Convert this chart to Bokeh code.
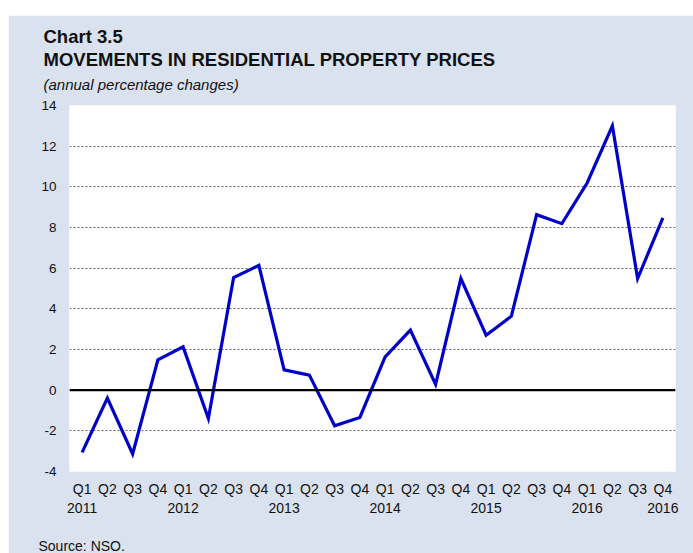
from bokeh.plotting import figure
from bokeh.models import Span, FixedTicker, Range1d, Spacer, Title
from bokeh.layouts import column, row
from bokeh.embed import file_html
from bokeh.resources import INLINE

# ---- data ----
years = ["2011"] * 4 + ["2012"] * 4 + ["2013"] * 4 + ["2014"] * 4 + ["2015"] * 4 + ["2016"] * 4
quarters = ["Q1", "Q2", "Q3", "Q4"] * 6
values = [-3.06, -0.39, -3.14, 1.49,
          2.13, -1.39, 5.54, 6.14,
          1.00, 0.74, -1.75, -1.34,
          1.64, 2.95, 0.28, 5.49,
          2.70, 3.64, 8.63, 8.19,
          10.19, 13.00, 5.49, 8.47]
y_ticks = [-4, -2, 0, 2, 4, 6, 8, 10, 12, 14]

title_1 = "Chart 3.5"
title_2 = "MOVEMENTS IN RESIDENTIAL PROPERTY PRICES"
subtitle = "(annual percentage changes)"
source = "Source: NSO."

xs = list(range(len(values)))
overrides = {}
for i, (y, q) in enumerate(zip(years, quarters)):
    if q == "Q1" or i == len(values) - 1:
        overrides[i] = f"{q}\n{y}"
    else:
        overrides[i] = q
y_labels = {t: str(t) for t in y_ticks}   # plain hyphen for negatives

PANEL = "#dbe2ef"
FONT = "Liberation Sans"
TXT = "#111111"

p = figure(x_range=Range1d(-0.5, len(values) - 0.5), y_range=Range1d(-4, 14),
           width=685, height=538,
           min_border_left=61, min_border_right=18,
           min_border_top=90, min_border_bottom=81,
           output_backend="svg", toolbar_location=None,
           background_fill_color="white", border_fill_color=PANEL,
           outline_line_color=None)

p.line(x=xs, y=values, line_color="#0000c8", line_width=3.2, line_join="miter")

zero = Span(location=0, dimension="width", line_color="black", line_width=2.2)
p.add_layout(zero)

# axes
p.yaxis.ticker = FixedTicker(ticks=y_ticks)
p.xaxis.ticker = FixedTicker(ticks=xs)
for ax in (p.xaxis[0], p.yaxis[0]):
    ax.axis_line_color = None
    ax.major_tick_line_color = None
    ax.minor_tick_line_color = None
    ax.major_tick_out = 0
    ax.major_tick_in = 0
    ax.major_label_text_font = FONT
    ax.major_label_text_color = TXT
p.yaxis.major_label_text_font_size = "13.5px"
p.xaxis.major_label_text_font_size = "14px"
p.yaxis.major_label_standoff = 13
p.xaxis.major_label_standoff = 9
p.xaxis.major_label_overrides = overrides
p.yaxis.major_label_overrides = y_labels

p.xgrid.grid_line_color = None
p.ygrid.grid_line_color = "#666666"
p.ygrid.grid_line_dash = "2 2"
p.ygrid.grid_line_width = 1

def gap(px, where):
    p.add_layout(Title(text=" ", text_font_size="1px", standoff=px,
                       text_color=PANEL), where)

# titles (first added sits nearest the plot)
gap(6, "above")
p.add_layout(Title(text=subtitle, align="left", offset=-26, standoff=8,
                   text_font=FONT, text_font_size="15px", text_font_style="italic",
                   text_color=TXT), "above")
p.add_layout(Title(text=title_2, align="left", offset=-26, standoff=0,
                   text_font=FONT, text_font_size="18.5px", text_font_style="bold",
                   text_line_height=0.85, text_color=TXT), "above")
p.add_layout(Title(text=title_1, align="left", offset=-26, standoff=0,
                   text_font=FONT, text_font_size="18.5px", text_font_style="bold",
                   text_color=TXT), "above")
gap(14, "below")
p.add_layout(Title(text=source, align="left", offset=-31, standoff=0,
                   text_font=FONT, text_font_size="14px", text_font_style="normal",
                   text_color=TXT), "below")

layout = row(Spacer(width=8, height=553), column(Spacer(width=685, height=15), p))
open("out.html", "w").write(file_html(layout, INLINE))
